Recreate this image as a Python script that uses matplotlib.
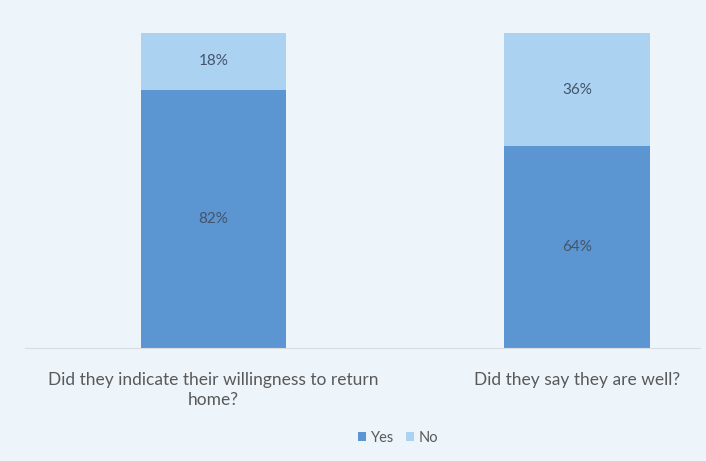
import matplotlib
matplotlib.use("Agg")
import matplotlib.pyplot as plt

# Survey answers, share of respondents (%)
questions = ["Did they indicate their willingness to return\nhome?",
             "Did they say they are well?"]
yes_pct = [82, 64]
no_pct = [18, 36]

BG = "#eef5fa"
YES_COLOR = "#5b96d3"
NO_COLOR = "#acd2f1"
LABEL_COLOR = "#44546a"

plt.rcParams["font.family"] = ["Lato", "DejaVu Sans"]

fig = plt.figure(figsize=(7.06, 4.61), dpi=100, facecolor=BG)
ax = fig.add_axes([25 / 706, 1 - 348 / 461, 675 / 706, 315 / 461], facecolor=BG)

x = list(range(len(questions)))
bars_yes = ax.bar(x, yes_pct, width=0.4, color=YES_COLOR, label="Yes")
bars_no = ax.bar(x, no_pct, width=0.4, bottom=yes_pct, color=NO_COLOR, label="No")

for bar, v in zip(bars_yes, yes_pct):
    ax.text(bar.get_x() + bar.get_width() / 2, v / 2, f"{v}%",
            ha="center", va="center", fontsize=11, color=LABEL_COLOR)
for bar, base, v in zip(bars_no, yes_pct, no_pct):
    ax.text(bar.get_x() + bar.get_width() / 2, base + v / 2, f"{v}%",
            ha="center", va="center", fontsize=11, color=LABEL_COLOR)

ax.set_xlim(-0.519, 1.338)
ax.set_ylim(0, 100)
ax.set_xticks(x)
ax.set_xticklabels(questions, fontsize=12.5, color="#595959", linespacing=1.3)
ax.tick_params(axis="x", length=0, pad=17)
ax.set_yticks([])
for side in ["top", "left", "right"]:
    ax.spines[side].set_visible(False)
ax.spines["bottom"].set_color("#d9dde2")

fig.legend(handles=[bars_yes, bars_no], labels=["Yes", "No"], loc="center",
           bbox_to_anchor=(398 / 706, 1 - 438 / 461), ncol=2, frameon=False,
           fontsize=10.5, handlelength=0.6, handleheight=0.6, handletextpad=0.3,
           columnspacing=0.8, labelcolor="#595959")

fig.savefig("out.png", dpi=100, facecolor=BG)
